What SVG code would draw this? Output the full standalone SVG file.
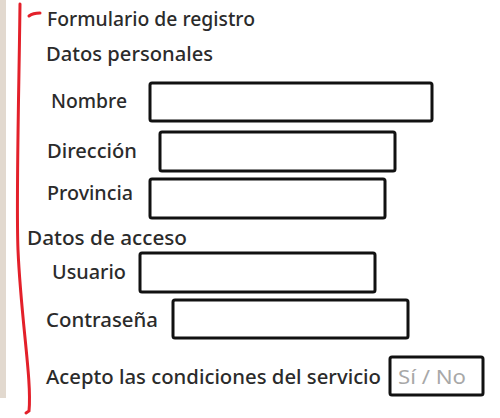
<svg xmlns="http://www.w3.org/2000/svg" width="500" height="418" viewBox="0 0 500 418">
<style>
.lbl{font-family:"Noto Sans","Open Sans",sans-serif;font-size:19px;font-weight:500;fill:#2b2b2b}
.hint{font-family:"Noto Sans","Open Sans",sans-serif;font-size:19px;fill:#a8a8a8}
.box{fill:#fff;stroke:#111;stroke-width:3;stroke-linejoin:round}
.red{fill:none;stroke:#e3202a;stroke-width:3;stroke-linecap:round}
</style>
<rect x="0" y="0" width="500" height="418" fill="#fff"/>
<rect x="0" y="0" width="6" height="398" fill="#e2d9cf"/>
<g id="bracket">
<path class="red" d="M20,4 C19,90 16,200 18,250 C21,320 32,380 29,411 L26,413"/>
<path class="red" d="M29,16 Q33,13 40,13"/>
</g>
<g id="title"><text class="lbl" x="47" y="26" textLength="208" lengthAdjust="spacingAndGlyphs">Formulario de registro</text></g>
<g id="personales"><text class="lbl" x="46" y="61" textLength="167" lengthAdjust="spacingAndGlyphs">Datos personales</text></g>
<g id="nombre">
<text class="lbl" x="51" y="108" textLength="76" lengthAdjust="spacingAndGlyphs">Nombre</text>
<rect class="box" x="150" y="83" width="282" height="38" rx="2"/>
</g>
<g id="direccion">
<text class="lbl" x="47" y="158" textLength="90" lengthAdjust="spacingAndGlyphs">Dirección</text>
<rect class="box" x="160" y="132" width="235" height="39" rx="2"/>
</g>
<g id="provincia">
<text class="lbl" x="47" y="200" textLength="86" lengthAdjust="spacingAndGlyphs">Provincia</text>
<rect class="box" x="150" y="179" width="235" height="39" rx="2"/>
</g>
<g id="acceso"><text class="lbl" x="27" y="245" textLength="160" lengthAdjust="spacingAndGlyphs">Datos de acceso</text></g>
<g id="usuario">
<text class="lbl" x="52" y="279" textLength="74" lengthAdjust="spacingAndGlyphs">Usuario</text>
<rect class="box" x="140" y="253" width="235" height="39" rx="2"/>
</g>
<g id="contrasena">
<text class="lbl" x="46" y="327" textLength="112" lengthAdjust="spacingAndGlyphs">Contraseña</text>
<rect class="box" x="173" y="300" width="235" height="38" rx="2"/>
</g>
<g id="condiciones">
<text class="lbl" x="46" y="384" textLength="335" lengthAdjust="spacingAndGlyphs">Acepto las condiciones del servicio</text>
<rect class="box" x="390" y="357" width="93" height="38" rx="2"/>
<text class="hint" x="398" y="384" textLength="68" lengthAdjust="spacingAndGlyphs">Sí / No</text>
</g>
</svg>
